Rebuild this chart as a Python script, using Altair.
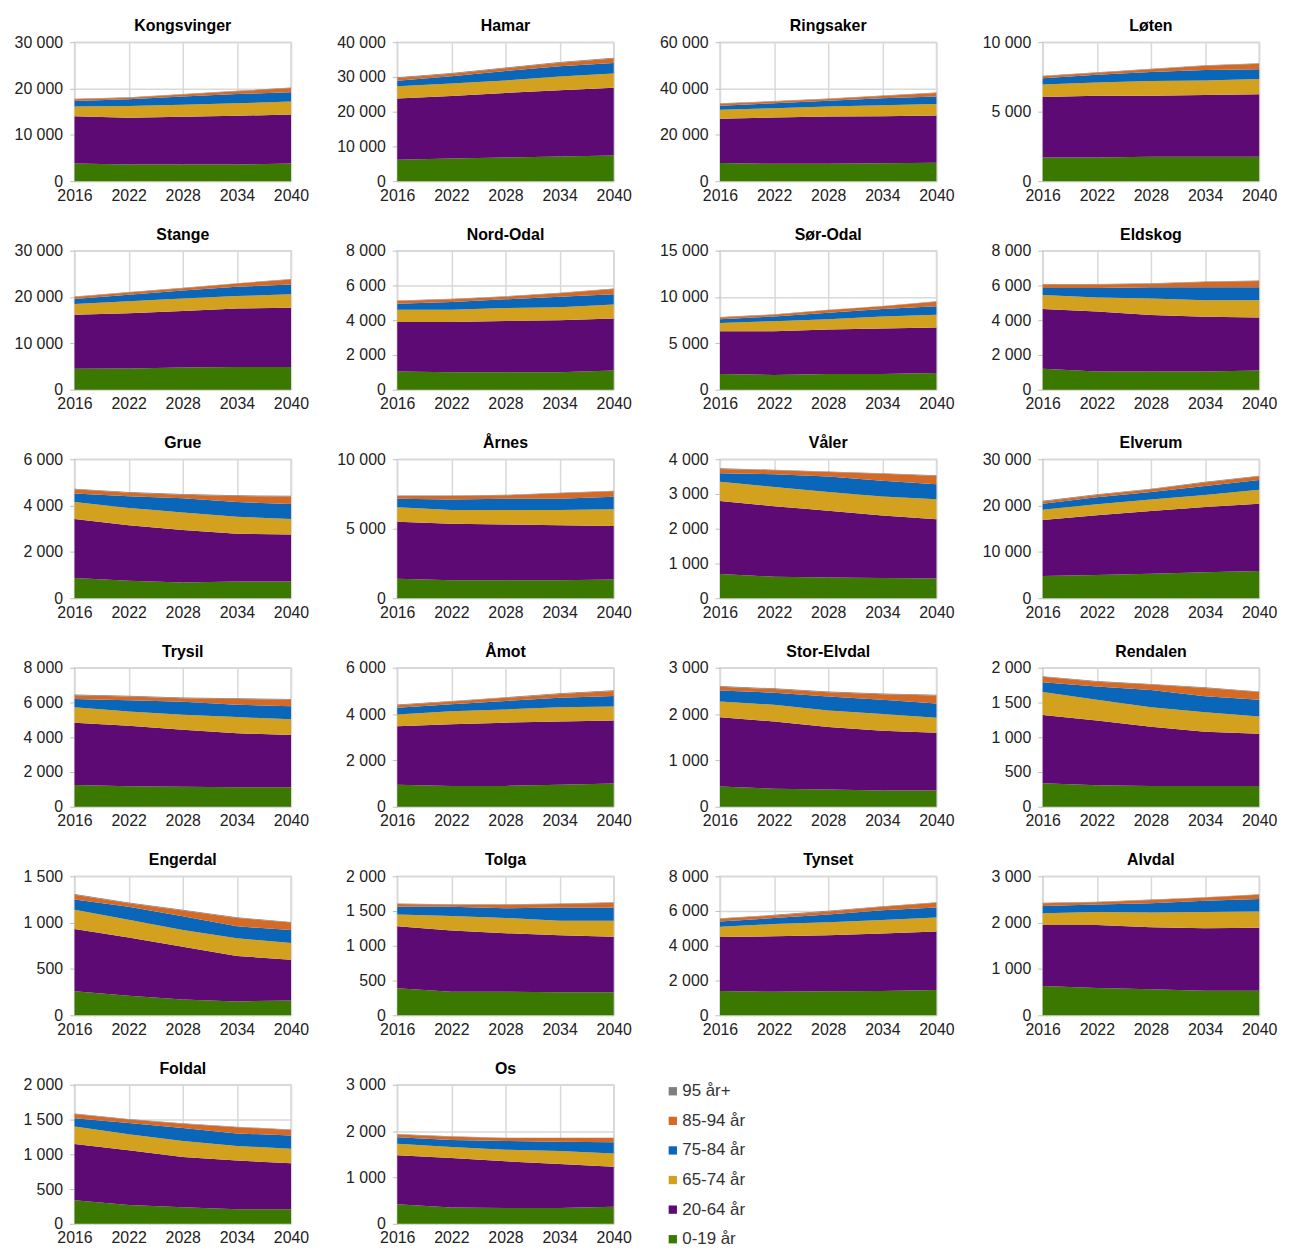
import altair as alt
import pandas as pd

years = [2016, 2022, 2028, 2034, 2040]
age_groups = ["0-19 år", "20-64 år", "65-74 år", "75-84 år", "85-94 år", "95 år+"]
group_colors = ["#3a7800", "#5e0a74", "#d4a11e", "#0a66b9", "#d66a24", "#7f7f7f"]

# values per age group (bottom to top), at years 2016, 2022, 2028, 2034, 2040
kongsvinger = [[3800, 3600, 3600, 3600, 3800], [10200, 10100, 10300, 10500, 10600], [2100, 2500, 2600, 2700, 2800],
               [1200, 1500, 1800, 2000, 2000], [400, 300, 400, 600, 900], [100, 100, 100, 100, 100]]
hamar = [[6200, 6500, 6800, 7100, 7400], [17600, 18000, 18600, 19100, 19500], [3500, 3600, 3600, 3900, 4100],
         [1600, 2100, 2700, 3000, 3000], [800, 700, 800, 1000, 1300], [200, 200, 200, 200, 200]]
ringsaker = [[7800, 7500, 7500, 7700, 8000], [19200, 20000, 20400, 20300, 20400], [3800, 4000, 4300, 4800, 4900],
             [1800, 2100, 2500, 3000, 3300], [800, 800, 800, 1000, 1500], [200, 200, 200, 200, 200]]
loten = [[1700, 1700, 1750, 1750, 1750], [4350, 4450, 4400, 4450, 4500], [900, 950, 1050, 1050, 1100],
         [450, 550, 650, 750, 700], [150, 150, 200, 300, 400], [40, 40, 40, 40, 40]]
stange = [[4500, 4600, 4800, 4900, 4900], [11700, 11900, 12200, 12600, 12800], [2300, 2600, 2700, 2700, 2900],
          [1100, 1400, 1700, 2000, 2100], [400, 500, 500, 700, 1100], [100, 100, 100, 100, 100]]
nord_odal = [[1050, 1000, 1000, 1000, 1100], [2850, 2900, 2950, 3000, 3000], [700, 700, 750, 750, 800],
             [350, 450, 500, 600, 600], [150, 150, 150, 200, 300], [30, 30, 30, 30, 30]]
sor_odal = [[1700, 1600, 1700, 1700, 1800], [4600, 4700, 4800, 4900, 4900], [900, 1100, 1100, 1300, 1400],
            [400, 500, 700, 800, 900], [200, 200, 300, 300, 500], [40, 40, 40, 40, 40]]
eldskog = [[1200, 1050, 1050, 1050, 1100], [3450, 3450, 3250, 3150, 3050], [800, 800, 950, 950, 1000],
           [400, 550, 650, 750, 750], [200, 200, 200, 300, 350], [30, 30, 30, 30, 30]]
grue = [[870, 760, 680, 720, 720], [2550, 2390, 2270, 2060, 2030], [730, 750, 750, 740, 670],
        [370, 500, 620, 630, 650], [180, 150, 150, 260, 320], [30, 30, 30, 30, 30]]
arnes = [[1400, 1300, 1300, 1300, 1350], [4100, 4050, 4000, 3950, 3850], [1050, 1000, 1050, 1100, 1200],
         [600, 750, 800, 800, 900], [200, 250, 250, 400, 400], [40, 40, 40, 40, 40]]
valer = [[700, 620, 600, 580, 570], [2100, 2030, 1920, 1800, 1700], [550, 550, 540, 550, 580],
         [250, 370, 440, 450, 430], [120, 110, 130, 200, 240], [20, 20, 20, 20, 20]]
elverum = [[4800, 5000, 5300, 5600, 5900], [12100, 12900, 13500, 14100, 14500], [2200, 2400, 2500, 2600, 3000],
           [1300, 1500, 1600, 1900, 2100], [500, 500, 600, 800, 800], [150, 150, 150, 150, 150]]
trysil = [[1250, 1180, 1150, 1130, 1130], [3580, 3480, 3280, 3100, 3000], [900, 820, 870, 930, 900],
          [470, 650, 750, 710, 760], [220, 220, 200, 330, 370], [40, 40, 40, 40, 40]]
amot = [[950, 900, 900, 950, 1000], [2530, 2660, 2730, 2730, 2720], [500, 560, 570, 610, 610],
        [290, 310, 370, 410, 450], [110, 110, 130, 170, 220], [30, 30, 30, 30, 30]]
stor_elvdal = [[440, 390, 370, 350, 350], [1490, 1450, 1350, 1290, 1250], [340, 360, 360, 360, 320],
               [240, 260, 300, 310, 310], [80, 80, 90, 120, 170], [15, 15, 15, 15, 15]]
rendalen = [[340, 310, 300, 300, 300], [980, 930, 850, 780, 750], [330, 300, 280, 280, 250],
            [140, 190, 250, 230, 240], [80, 70, 80, 120, 110], [8, 8, 8, 8, 8]]
engerdal = [[260, 210, 170, 150, 160], [670, 630, 570, 490, 440], [210, 190, 180, 190, 180],
            [110, 140, 150, 130, 140], [50, 40, 60, 90, 80], [8, 8, 8, 8, 8]]
tolga = [[390, 340, 340, 330, 330], [890, 880, 840, 820, 800], [170, 210, 220, 210, 230],
         [110, 130, 140, 190, 190], [40, 30, 50, 50, 70], [8, 8, 8, 8, 8]]
tynset = [[1400, 1350, 1380, 1400, 1450], [3100, 3200, 3220, 3300, 3370], [600, 700, 750, 780, 810],
          [300, 350, 450, 570, 570], [150, 150, 180, 200, 270], [30, 30, 30, 30, 30]]
alvdal = [[630, 590, 560, 530, 530], [1320, 1360, 1340, 1350, 1360], [250, 280, 320, 350, 350],
          [160, 160, 200, 240, 270], [60, 50, 70, 70, 90], [10, 10, 10, 10, 10]]
foldal = [[340, 270, 240, 210, 210], [810, 790, 720, 700, 660], [250, 230, 230, 210, 210],
          [120, 160, 190, 180, 190], [60, 50, 60, 90, 80], [8, 8, 8, 8, 8]]
os_ = [[420, 350, 340, 340, 370], [1060, 1070, 1010, 950, 860], [250, 240, 250, 280, 290],
       [140, 150, 190, 200, 240], [60, 70, 60, 80, 90], [10, 10, 10, 10, 10]]

names = ["Kongsvinger", "Hamar", "Ringsaker", "Løten", "Stange", "Nord-Odal", "Sør-Odal", "Eldskog",
         "Grue", "Årnes", "Våler", "Elverum", "Trysil", "Åmot", "Stor-Elvdal", "Rendalen",
         "Engerdal", "Tolga", "Tynset", "Alvdal", "Foldal", "Os"]
series = [kongsvinger, hamar, ringsaker, loten, stange, nord_odal, sor_odal, eldskog,
          grue, arnes, valer, elverum, trysil, amot, stor_elvdal, rendalen,
          engerdal, tolga, tynset, alvdal, foldal, os_]
y_max = [30000, 40000, 60000, 10000, 30000, 8000, 15000, 8000, 6000, 10000, 4000, 30000,
         8000, 6000, 3000, 2000, 1500, 2000, 8000, 3000, 2000, 3000]
y_step = [10000, 10000, 20000, 5000, 10000, 2000, 5000, 2000, 2000, 5000, 1000, 10000,
          2000, 2000, 1000, 500, 500, 500, 2000, 1000, 500, 1000]

legend_order = age_groups[::-1]
legend_colors = group_colors[::-1]

FONT = "Liberation Sans"
W, H = 218, 140


def panel(name, data, ymax, step):
    rows = []
    for gi, (g, vals) in enumerate(zip(age_groups, data)):
        for yr, v in zip(years, vals):
            rows.append({"År": yr, "Aldersgruppe": g, "Antall": v, "Rekkefølge": gi})
    df = pd.DataFrame(rows)
    return (
        alt.Chart(df, title=alt.TitleParams(name, font=FONT, fontSize=16, fontWeight="bold",
                                            color="#000000", offset=0, anchor="middle"))
        .mark_area(interpolate="linear")
        .encode(
            x=alt.X("År:Q", scale=alt.Scale(domain=[2016, 2040], nice=False, zero=False),
                    axis=alt.Axis(values=years, format="d", title=None, labelFlush=False,
                                  ticks=False, labelPadding=6, grid=True)),
            y=alt.Y("Antall:Q", stack="zero", scale=alt.Scale(domain=[0, ymax], nice=False),
                    axis=alt.Axis(values=list(range(0, ymax + 1, step)), title=None,
                                  labelExpr="replace(format(datum.value, ',d'), ',', ' ')",
                                  tickSize=5, labelPadding=7)),
            color=alt.Color("Aldersgruppe:N",
                            scale=alt.Scale(domain=legend_order, range=legend_colors),
                            legend=alt.Legend(orient="none", legendX=594, legendY=1048, title=None,
                                              symbolType="square", symbolSize=70, symbolStrokeWidth=0,
                                              labelFont=FONT, labelFontSize=17, labelColor="#333333",
                                              rowPadding=11.8, labelOffset=1, padding=0)),
            order=alt.Order("Rekkefølge:Q", sort="ascending"),
        )
        .properties(width=W, height=H)
    )


panels = [panel(n, s, m, st) for n, s, m, st in zip(names, series, y_max, y_step)]

chart = (
    alt.concat(*panels, columns=4, spacing={"row": 70, "column": 107}, bounds="flush")
    .configure_axis(labelFont=FONT, labelFontSize=16, labelColor="#222222", gridColor="#d9d9d9",
                    gridWidth=1.5, domain=False, tickColor="#bfbfbf")
    .configure_view(stroke="#d9d9d9", strokeWidth=1.5)
)

chart.save("out.html", embed_options={"renderer": "svg", "actions": False})
